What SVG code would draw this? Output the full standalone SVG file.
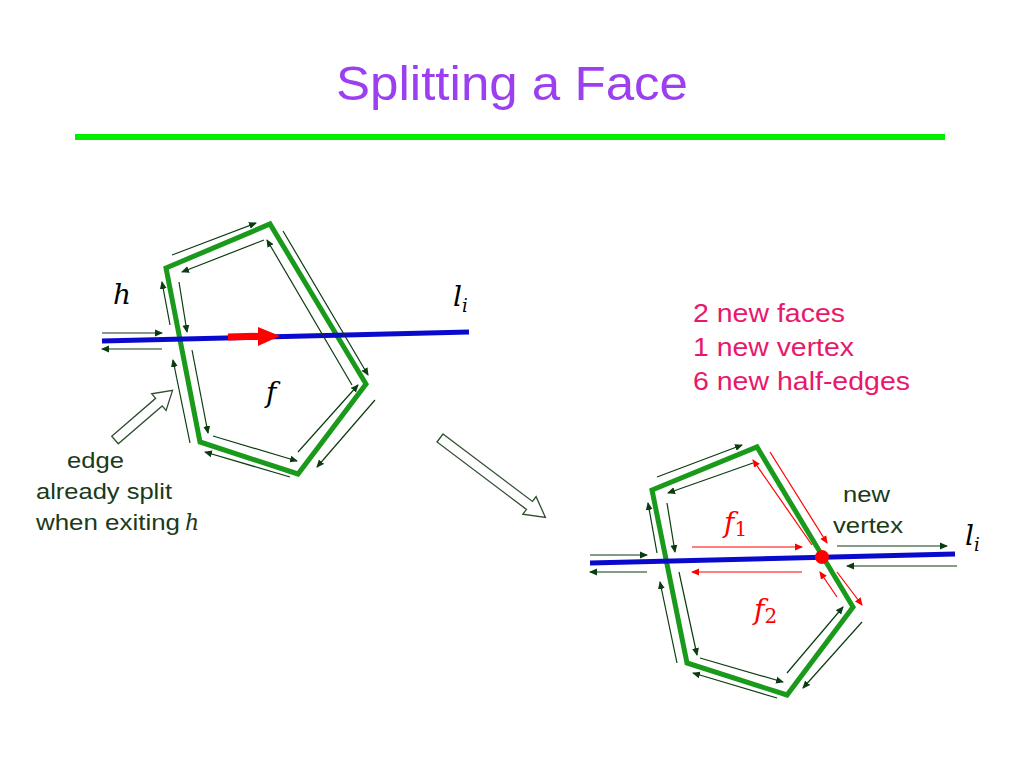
<svg xmlns="http://www.w3.org/2000/svg" width="1024" height="768" viewBox="0 0 1024 768">
<defs>
<marker id="a" markerWidth="8" markerHeight="8" refX="7" refY="4" orient="auto" markerUnits="userSpaceOnUse"><path d="M0,0.5 L8,4 L0,7.5 Z" fill="#0b3b10"/></marker>
<marker id="r" markerWidth="8" markerHeight="8" refX="7" refY="4" orient="auto" markerUnits="userSpaceOnUse"><path d="M0,0.5 L8,4 L0,7.5 Z" fill="#ff0000"/></marker>
</defs>
<style>
.poly{fill:none;stroke:#1a9a1a;stroke-width:5;stroke-linejoin:miter}
.he{stroke:#0b3b10;stroke-width:1.2;marker-end:url(#a);fill:none}
.rh{stroke:#ff0000;stroke-width:1.2;marker-end:url(#r);fill:none}
.line{stroke:#0a0acc;stroke-width:5}
.hollow{fill:#fff;stroke:#2f4f2f;stroke-width:1.3}
.m{font-family:"DejaVu Serif","Liberation Serif",serif;font-style:italic;font-size:28px}
.t{font-family:"Liberation Sans",Arial,sans-serif}
</style>
<g id="title">
<text class="t" x="512" y="100" font-size="48" fill="#9b3ff0" text-anchor="middle" textLength="352" lengthAdjust="spacingAndGlyphs">Splitting a Face</text>
<line x1="75" y1="137" x2="945" y2="137" stroke="#00ee00" stroke-width="6"/>
</g>
<g id="left-face">
<polygon class="poly" points="166,268 270,224 366,384 298,474 200,442"/>
<line class="line" x1="102" y1="341" x2="469" y2="332"/>
<line x1="228" y1="337" x2="262" y2="336.2" stroke="#ff0000" stroke-width="7"/>
<path d="M258,327 L280,336 L258,346 Z" fill="#ff0000"/>
<text class="m" x="113" y="304">h</text>
<text class="m" x="453" y="306">l<tspan font-size="18" dy="6">i</tspan></text>
<text class="m" x="266" y="402">f</text>
</g>
<g id="label-edge" class="t" font-size="22" fill="#1a3a1a">
<text x="67" y="468" textLength="57" lengthAdjust="spacingAndGlyphs">edge</text>
<text x="36" y="499" textLength="136" lengthAdjust="spacingAndGlyphs">already split</text>
<text x="36" y="530" textLength="144" lengthAdjust="spacingAndGlyphs">when exiting</text>
<text x="185" y="530" font-family="DejaVu Serif,serif" font-style="italic">h</text>
</g>
<g id="hollow-arrows">
<polygon class="hollow" transform="translate(115,440) rotate(-40.8)" points="0,-5 58,-5 58,-11 76,0 58,11 58,5 0,5"/>
<polygon class="hollow" transform="translate(440,438) rotate(37)" points="0,-5 112,-5 112,-11 132,0 112,11 112,5 0,5"/>
</g>
<g id="info" class="t" font-size="25" fill="#e8186a">
<text x="693" y="322" textLength="152" lengthAdjust="spacingAndGlyphs">2 new faces</text>
<text x="693" y="356" textLength="161" lengthAdjust="spacingAndGlyphs">1 new vertex</text>
<text x="693" y="390" textLength="217" lengthAdjust="spacingAndGlyphs">6 new half-edges</text>
</g>
<g id="right-face">
<polygon class="poly" points="652,490 757,447 853,607 787,695 687,663"/>
<line class="line" x1="590" y1="563" x2="955" y2="554"/>
<circle cx="822" cy="557" r="7" fill="#ff0000"/>
<text class="m" x="724" y="532" fill="#ff0000">f<tspan font-size="20" dy="4" font-style="normal">1</tspan></text>
<text class="m" x="754" y="619" fill="#ff0000">f<tspan font-size="20" dy="4" font-style="normal">2</tspan></text>
<text class="m" x="965" y="545">l<tspan font-size="18" dy="6">i</tspan></text>
<text class="t" x="843" y="502" font-size="22" fill="#1a3a1a" textLength="47" lengthAdjust="spacingAndGlyphs">new</text>
<text class="t" x="833" y="533" font-size="22" fill="#1a3a1a" textLength="70" lengthAdjust="spacingAndGlyphs">vertex</text>
</g>
<g id="connectors">
<path class="he" d="M172,255 L256,223"/>
<path class="he" d="M264,240 L182,272"/>
<path class="he" d="M283,231 L368,375"/>
<path class="he" d="M352,385 L267,240"/>
<path class="he" d="M298,452 L358,385"/>
<path class="he" d="M375,400 L317,467"/>
<path class="he" d="M290,477 L205,452"/>
<path class="he" d="M213,436 L297,461"/>
<path class="he" d="M192,350 L208,433"/>
<path class="he" d="M190,443 L173,360"/>
<path class="he" d="M179,282 L187,332"/>
<path class="he" d="M170,325 L162,282"/>
<path class="he" d="M102,333 L162,333"/>
<path class="he" d="M162,349 L102,349"/>
<path class="he" d="M657,477 L742,445"/>
<path class="he" d="M753,463 L668,493"/>
<path class="he" d="M657,553 L648,503"/>
<path class="he" d="M667,503 L675,552"/>
<path class="he" d="M590,555 L647,555"/>
<path class="he" d="M647,572 L590,572"/>
<path class="he" d="M679,572 L697,655"/>
<path class="he" d="M677,663 L660,582"/>
<path class="he" d="M700,658 L783,682"/>
<path class="he" d="M777,698 L693,673"/>
<path class="he" d="M787,673 L843,607"/>
<path class="he" d="M862,622 L803,688"/>
<path class="he" d="M837,546 L947,546"/>
<path class="he" d="M957,566 L847,566"/>
<path class="rh" d="M770,452 L827,543"/>
<path class="rh" d="M812,545 L753,460"/>
<path class="rh" d="M692,547 L802,547"/>
<path class="rh" d="M802,572 L692,572"/>
<path class="rh" d="M837,597 L820,572"/>
<path class="rh" d="M837,572 L862,605"/>
</g>
</svg>
